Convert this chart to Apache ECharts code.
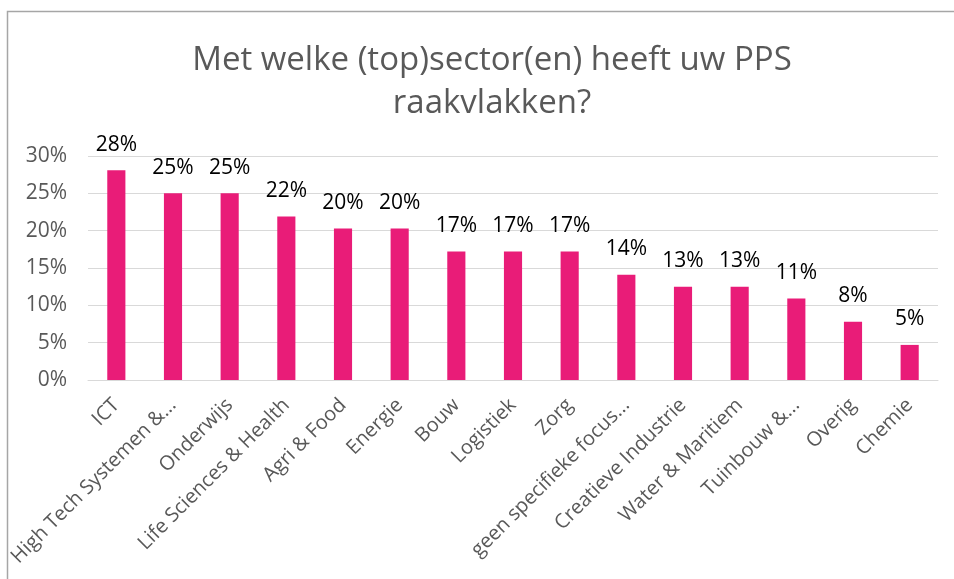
<!DOCTYPE html>
<html>
<head>
<meta charset="utf-8">
<script src="https://cdn.jsdelivr.net/npm/echarts@6/dist/echarts.min.js"></script>
<style>
  html, body { margin: 0; padding: 0; background: #fff; }
  #chart { width: 954px; height: 579px; }
</style>
</head>
<body>
<div id="chart"></div>
<script>
// sectoren zoals ze in de grafiek staan (afgekapt waar de grafiek afkapt)
const sectors = [
  'ICT', 'High Tech Systemen &...', 'Onderwijs', 'Life Sciences & Health',
  'Agri & Food', 'Energie', 'Bouw', 'Logistiek', 'Zorg',
  'geen specifieke focus...', 'Creatieve Industrie', 'Water & Maritiem',
  'Tuinbouw &...', 'Overig', 'Chemie'
]
// percentages
const shares = [28.1, 25.0, 25.0, 21.9, 20.3, 20.3, 17.2, 17.2, 17.2, 14.1, 12.5, 12.5, 10.9, 7.8, 4.7]
const yTicks = [0, 5, 10, 15, 20, 25, 30]

const myChart = echarts.init(document.getElementById('chart'))

const font = 'Open Sans'

const option = {
  animation: false,
  title: {
    text: 'Met welke (top)sector(en) heeft uw PPS\nraakvlakken?',
    left: 487,
    top: 34,
    textAlign: 'center',
    textStyle: {
      fontFamily: font,
      fontSize: 33,
      fontWeight: 'normal',
      color: '#595959',
      lineHeight: 43
    }
  },
  graphic: [{ // kader rond de grafiek
    type: 'polyline',
    shape: { points: [[7.5, 600], [7.5, 11.5], [960, 11.5]] },
    style: { stroke: '#a6a6a6', lineWidth: 1.5, fill: null }
  }],
  grid: {
    left: 88,
    right: 16,
    top: 156,
    bottom: 199
  },
  xAxis: {
    type: 'category',
    data: sectors,
    axisLine: { lineStyle: { color: '#d9d9d9' } },
    axisTick: { show: false },
    axisLabel: {
      rotate: 45,
      interval: 0,
      margin: 22,
      color: '#595959',
      fontFamily: font,
      fontSize: 20
    }
  },
  yAxis: {
    type: 'value',
    min: yTicks[0],
    max: yTicks[yTicks.length - 1],
    interval: 5,
    axisLabel: {
      formatter: '{value}%',
      color: '#595959',
      fontFamily: font,
      fontSize: 21,
      margin: 21
    },
    splitLine: { lineStyle: { color: '#d9d9d9', width: 1 } }
  },
  series: [{
    type: 'bar',
    data: shares,
    barWidth: '32%',
    itemStyle: { color: '#e91c78' },
    label: {
      show: true,
      position: 'top',
      distance: 15,
      color: '#000',
      fontFamily: font,
      fontSize: 21,
      formatter: p => Math.round(p.value) + '%'
    }
  }]
}

myChart.setOption(option)
</script>
</body>
</html>
